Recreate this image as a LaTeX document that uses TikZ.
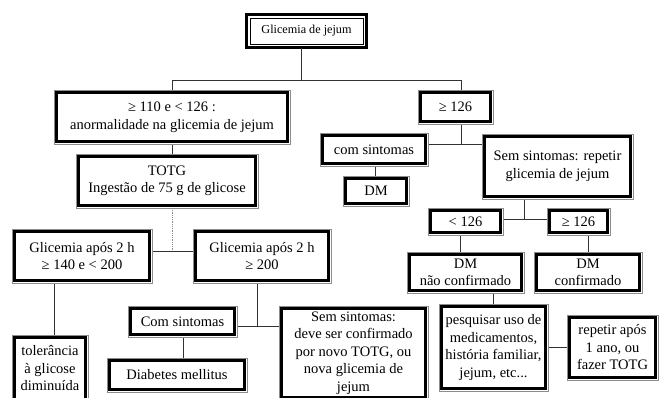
\documentclass[tikz,border=0pt]{standalone}
\usepackage{fontspec}
\setmainfont{Liberation Serif}
\begin{document}
\begin{tikzpicture}[x=1pt,y=-1pt,
  box/.style={draw=black, line width=2.8pt, fill=white, inner sep=1pt, outer sep=0pt,
    align=center, font=\fontsize{14.5}{17.5}\selectfont},
  outerline/.style={draw=black!45, line width=0.7pt},
  conn/.style={draw=black!80, line width=0.9pt},
  faint/.style={draw=black!45, line width=0.8pt, densely dotted}]
\useasboundingbox (0,0) rectangle (659,397);
\newcommand\mybox[6]{%
  \pgfmathsetmacro\bw{#4-#2-5}\pgfmathsetmacro\bh{#5-#3-5}%
  \pgfmathsetmacro\cx{(#2+#4)/2}\pgfmathsetmacro\cy{(#3+#5)/2}%
  \node[box, minimum width=\bw pt, minimum height=\bh pt] (#1) at (\cx,\cy) {#6};
  \draw[outerline] ([shift={(-2.6pt,-2.6pt)}]#1.south west) rectangle ([shift={(2.6pt,2.6pt)}]#1.north east);
}
\begin{scope}
\clip (0,0) rectangle (659,397);
% junction coordinates
\coordinate (j1) at (301,80);
\coordinate (j2) at (172,251);
\coordinate (j3) at (257,326);
\coordinate (j4) at (461,144);
\coordinate (j5) at (524,219);

% top box (thick outside, thin inside)
\node[draw=black, line width=3pt, fill=white, outer sep=0pt, minimum width=120pt, minimum height=33pt,
  font=\fontsize{12.2}{14}\selectfont] (top) at (306.5,31) {Glicemia de jejum};
\draw[black, line width=0.6pt] ([shift={(3.5pt,3.5pt)}]top.south west) rectangle ([shift={(-3.5pt,-3.5pt)}]top.north east);

% connectors
\draw[conn] (top.south -| j1) -- (j1);
\draw[conn] (j1) -| (172,90) coordinate (aN);
\draw[conn] (j1) -| (461,90) coordinate (iN);
\draw[conn] (172,144) coordinate (aS) -- (172,154) coordinate (bN);
\draw[faint] (172,208) coordinate (bS) -- (j2);
\draw[conn] (152,251) coordinate (cE) -- (193,251) coordinate (dW);
\draw[conn] (54,283) coordinate (cS) -- (54,335) coordinate (eN);
\draw[conn] (257,283) coordinate (dS) -- (j3);
\draw[conn] (237,326) coordinate (fE) -- (279,326) coordinate (hW);
\draw[conn] (183,337) coordinate (fS) -- (183,358) coordinate (gN);
\draw[conn] (461,124) coordinate (iS) -- (j4);
\draw[conn] (428,144) coordinate (jE) -- (482,144) coordinate (lW);
\draw[conn] (375,166) coordinate (jS) -- (375,176) coordinate (kN);
\draw[conn] (524,199) coordinate (lS) -- (j5);
\draw[conn] (503,219) coordinate (mE) -- (547,219) coordinate (nW);
\draw[conn] (460,235) coordinate (mS) -- (460,252) coordinate (oN);
\draw[conn] (588,235) coordinate (nS) -- (588,252) coordinate (pN);
\draw[conn] (493,293) coordinate (oS) -- (493,304) coordinate (qN);
\draw[conn] (548,347) coordinate (qE) -- (567,347) coordinate (rW);

% boxes
\mybox{A}{54}{90}{290}{144}{≥ 110 e < 126 :\\anormalidade na glicemia de jejum}
\mybox{B}{76}{154}{258}{208}{TOTG\\Ingestão de 75 g de glicose}
\mybox{C}{12}{229}{152}{283}{Glicemia após 2 h\\≥ 140 e < 200}
\mybox{D}{193}{229}{331}{283}{Glicemia após 2 h\\≥ 200}
\mybox{E}{12}{335}{88}{402}{tolerância\\à glicose\\diminuída}
\mybox{F}{128}{306}{237}{337}{Com sintomas}
\mybox{G}{107}{358}{247}{392}{Diabetes mellitus}
\mybox{H}{279}{306}{428}{400}{Sem sintomas:\\deve ser confirmado\\por novo TOTG, ou\\nova glicemia de\\jejum}
\mybox{I}{418}{90}{493}{124}{≥ 126}
\mybox{J}{320}{133}{428}{166}{com sintomas}
\mybox{K}{343}{176}{409}{206}{DM}
\mybox{L}{482}{134}{633}{199}{Sem sintomas: repetir\\glicemia de jejum}
\mybox{M}{428}{208}{503}{235}{< 126}
\mybox{N}{547}{208}{610}{235}{≥ 126}
\mybox{O}{407}{252}{524}{293}{DM\\não confirmado}
\mybox{P}{534}{252}{642}{293}{DM\\confirmado}
\mybox{Q}{439}{304}{548}{391}{pesquisar uso de\\medicamentos,\\história familiar,\\jejum, etc...}
\mybox{R}{567}{315}{658}{380}{repetir após\\1 ano, ou\\fazer TOTG}
\end{scope}
\end{tikzpicture}
\end{document}
